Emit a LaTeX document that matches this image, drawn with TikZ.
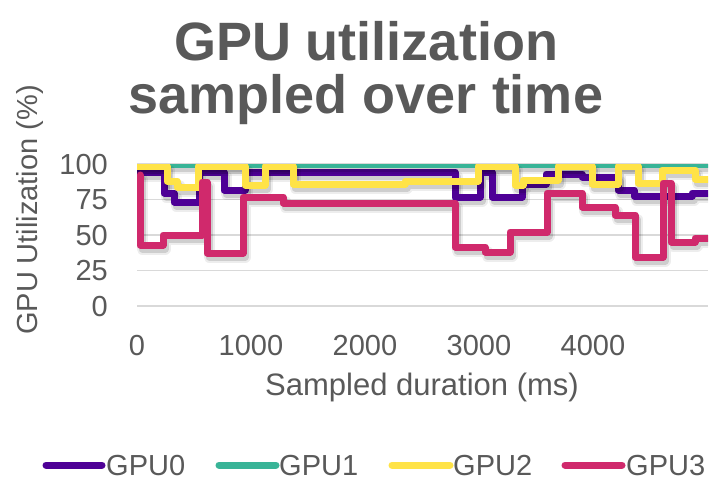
\documentclass[tikz,border=0pt]{standalone}
\usepackage{fontspec}
\setmainfont{Liberation Sans}
\definecolor{txt}{HTML}{595959}
\definecolor{grid}{HTML}{D9D9D9}
\definecolor{gzero}{HTML}{4E0096}
\definecolor{gone}{HTML}{38B497}
\definecolor{gtwo}{HTML}{FFE347}
\definecolor{gthree}{HTML}{D0296C}
\tikzset{
  lbl/.style={text=txt, inner sep=0pt, font=\fontsize{29}{29}\selectfont},
  ttl/.style={text=txt, inner sep=0pt, font=\fontsize{31}{31}\selectfont},
  gridline/.style={draw=grid, line width=1.5pt},
  serie/.style={line width=7pt, line join=round, line cap=round},
  shadowA/.style={line width=11pt, draw=black, opacity=0.07, line join=round, line cap=round},
  shadowB/.style={line width=7pt, draw=black, opacity=0.13, line join=round, line cap=round},
  legline/.style={line width=7pt, line cap=round},
}
\newcommand\pathzero[1]{\draw[#1] (137,172) -- (164,172) -- (164,193) -- (174,193) -- (174,202) -- (199,202) -- (199,172) -- (224,172) -- (224,190) -- (245,190) -- (245,172) -- (455,172) -- (455,197) -- (480,197) -- (480,172) -- (492,172) -- (492,197) -- (522,197) -- (522,184) -- (546,184) -- (546,174) -- (582,174) -- (582,177) -- (618,177) -- (618,190) -- (634,190) -- (634,196) -- (692,196) -- (692,193) -- (715,193);}
\newcommand\pathone[1]{\draw[#1] (130,164) -- (715,164);}
\newcommand\pathtwo[1]{\draw[#1] (130,166) -- (167,166) -- (167,181) -- (177,181) -- (177,187) -- (198,187) -- (198,166) -- (245,166) -- (245,185) -- (265,185) -- (265,166) -- (293,166) -- (293,184) -- (405,184) -- (405,181) -- (478,181) -- (478,166) -- (515,166) -- (515,185) -- (523,185) -- (523,180) -- (558,180) -- (558,166) -- (592,166) -- (592,184) -- (618,184) -- (618,166) -- (638,166) -- (638,183) -- (662,183) -- (662,170) -- (695,170) -- (695,179) -- (715,179);}
\newcommand\paththree[1]{\draw[#1] (140,175) -- (140,245) -- (163,245) -- (163,235) -- (202,235) -- (202,182) -- (207,182) -- (207,253) -- (243,253) -- (243,197) -- (283,197) -- (283,203) -- (455,203) -- (455,247) -- (485,247) -- (485,252) -- (510,252) -- (510,232) -- (547,232) -- (547,193) -- (582,193) -- (582,207) -- (615,207) -- (615,215) -- (635,215) -- (635,257) -- (663,257) -- (663,183) -- (671,183) -- (671,242) -- (695,242) -- (695,238) -- (715,238);}
\begin{document}
\begin{tikzpicture}[x=1pt,y=-1pt]
\useasboundingbox[fill=white] (0,0) rectangle (715,480);
% title
\node[text=txt, inner sep=0pt, anchor=base, font=\fontsize{54}{54}\bfseries] (t1) at (366,60) {GPU utilization};
\node[text=txt, inner sep=0pt, anchor=base, font=\fontsize{54}{54}\bfseries] (t2) at (366,113) {sampled over time};
% gridlines
\foreach \v/\n in {0/g0,25/g25,50/g50,75/g75,100/g100}{
  \draw[gridline] (137,{306-1.42*\v}) coordinate (\n l) -- (708,{306-1.42*\v}) coordinate (\n r);
  \node[lbl, anchor=base east] (y\v) at (108,{306-1.42*\v+10.4}) {\v};
}
% x labels
\foreach \t in {0,1000,2000,3000,4000}{
  \node[lbl, anchor=base] (x\t) at ({137+0.114*\t},355) {\t};
}
% axis titles
\node[ttl, anchor=base] (xt) at (422,395) {Sampled duration (ms)};
\node[lbl, rotate=90, anchor=center] (yt) at (30,210) {GPU Utilization (\%)};
% series
\begin{scope}
\clip (137,164) rectangle (708,330);
\begin{scope}[shift={(2,4)}]\pathzero{shadowA}\pathzero{shadowB}\end{scope}
\pathzero{serie, draw=gzero}
\begin{scope}[shift={(2,4)}]\pathone{shadowA}\pathone{shadowB}\end{scope}
\pathone{serie, draw=gone}
\begin{scope}[shift={(2,4)}]\pathtwo{shadowA}\pathtwo{shadowB}\end{scope}
\pathtwo{serie, draw=gtwo}
\begin{scope}[shift={(2,4)}]\paththree{shadowA}\paththree{shadowB}\end{scope}
\paththree{serie, draw=gthree}
\end{scope}
% legend
\coordinate (l0a) at (46,465); \coordinate (l0b) at (102,465);
\coordinate (l1a) at (219,465); \coordinate (l1b) at (276,465);
\coordinate (l2a) at (392,465); \coordinate (l2b) at (450,465);
\coordinate (l3a) at (565,465); \coordinate (l3b) at (622,465);
\draw[legline, draw=gzero] (l0a) -- (l0b);
\draw[legline, draw=gone] (l1a) -- (l1b);
\draw[legline, draw=gtwo] (l2a) -- (l2b);
\draw[legline, draw=gthree] (l3a) -- (l3b);
\node[lbl, anchor=base west] (n0) at (106,475.4) {GPU0};
\node[lbl, anchor=base west] (n1) at (279,475.4) {GPU1};
\node[lbl, anchor=base west] (n2) at (453,475.4) {GPU2};
\node[lbl, anchor=base west] (n3) at (626,475.4) {GPU3};
\end{tikzpicture}
\end{document}
